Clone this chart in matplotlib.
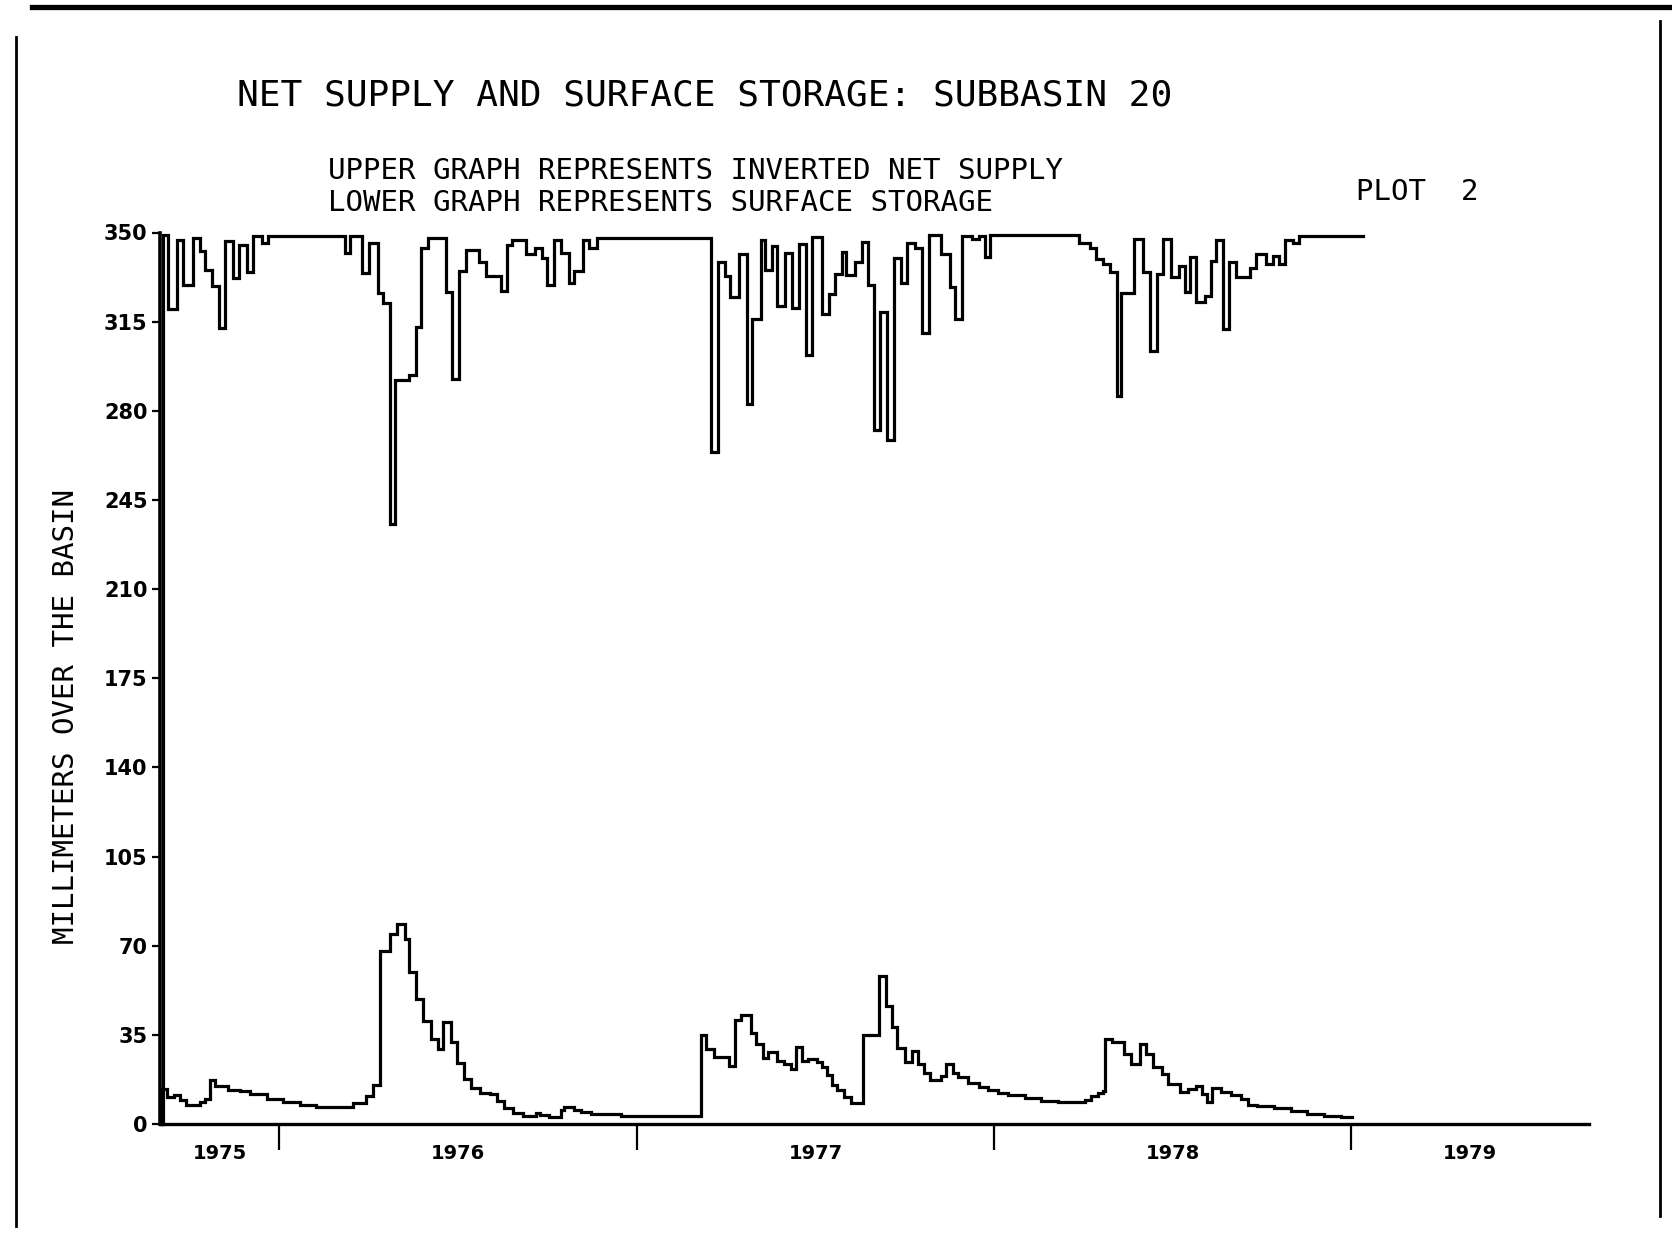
import matplotlib
matplotlib.use("Agg")
import matplotlib.pyplot as plt
from matplotlib.lines import Line2D

W, H = 1672, 1241

# ---- data (time axis: days since 1 Sep 1975; axis spans four years) ----
upper_day = [1, 3, 8, 17, 24, 34, 41, 46, 53, 60,
             66, 75, 81, 89, 95, 104, 110, 189, 194, 207,
             214, 223, 228, 235, 240, 255, 262, 267, 274, 292,
             299, 306, 313, 326, 333, 349, 355, 360, 374, 383,
             391, 396, 403, 410, 418, 423, 432, 439, 447, 563,
             570, 578, 583, 592, 600, 605, 614, 619, 626, 631,
             639, 646, 653, 660, 667, 677, 684, 690, 697, 701,
             711, 718, 724, 730, 736, 743, 750, 758, 764, 772,
             779, 786, 799, 808, 813, 820, 830, 837, 843, 849,
             940, 951, 957, 964, 971, 978, 983, 996, 1005, 1012,
             1019, 1025, 1034, 1042, 1048, 1053, 1059, 1068, 1075, 1080,
             1087, 1093, 1100, 1114, 1121, 1131, 1138, 1144, 1150, 1158,
             1165]
upper_val = [0, 349, 320, 347, 329.5, 348, 342.6, 335.4, 328.9, 312.5,
             346.6, 332, 345, 334.6, 348.5, 346, 348.5, 342, 348.5, 334,
             346, 326.3, 322.4, 235.5, 292, 294, 312.8, 344, 348, 326.6,
             292.5, 335, 343, 338.5, 333, 327, 345, 347, 341.5, 344,
             340, 329.5, 347, 342, 330, 335, 347, 344, 348, 264,
             338.5, 333, 324.5, 341.7, 282.5, 316, 347, 335.4, 344.6, 321,
             342.1, 320.5, 345.5, 302, 348.2, 318, 326, 333.8, 342.4, 333.2,
             338.5, 346.4, 329.4, 272.3, 318.8, 268.4, 340, 330.2, 345.9, 344,
             310.5, 349, 341.6, 328.5, 316.1, 348.7, 347.5, 348.7, 340.5, 349,
             346, 344, 339.6, 337.6, 334.4, 286, 326.3, 347.4, 334.4, 303.6,
             333.8, 347.6, 332.6, 337, 326.6, 340.5, 322.9, 325, 339, 346.9,
             312, 338.4, 332.5, 336, 341.5, 337.6, 340.8, 337.7, 347, 345.7,
             348.7]
upper_end = 1230

lower_day = [1, 2, 7, 14, 20, 27, 41, 46, 51, 56,
             70, 82, 92, 109, 126, 143, 160, 177, 197, 211,
             218, 225, 235, 242, 250, 255, 262, 269, 277, 284,
             289, 298, 304, 311, 318, 327, 337, 345, 352, 361,
             371, 384, 389, 398, 410, 413, 423, 430, 441, 471,
             553, 558, 566, 582, 588, 594, 604, 609, 616, 622,
             631, 638, 645, 650, 656, 662, 672, 677, 682, 687,
             692, 699, 706, 719, 735, 742, 748, 753, 762, 769,
             775, 781, 787, 798, 804, 811, 816, 826, 837, 847,
             857, 867, 884, 901, 918, 935, 946, 952, 959, 964,
             966, 973, 986, 993, 1002, 1008, 1015, 1024, 1031, 1043,
             1051, 1059, 1065, 1070, 1076, 1085, 1095, 1105, 1112, 1122,
             1139, 1156, 1173, 1190, 1207]
lower_val = [0, 13.9, 10.6, 11.2, 9.4, 7.5, 8.8, 10, 17.4, 14.8,
             13.2, 12.9, 11.6, 9.7, 8.5, 7.6, 6.7, 6.5, 8.2, 11,
             15.5, 68, 74.6, 78.6, 72.7, 59.6, 49, 40.5, 33.4, 29.4,
             40, 32, 24, 17.5, 14.3, 12.3, 11.6, 9, 6.4, 4.5,
             3.2, 4.5, 3.5, 2.6, 5.6, 6.6, 5.6, 4.6, 4, 3.1,
             35, 29.6, 26.2, 22.7, 41, 42.8, 35.9, 31.3, 26.1, 28.1,
             24.8, 23.5, 21.6, 30.2, 24.9, 25.6, 24.3, 22.3, 19.1, 15.2,
             13.2, 10.6, 8.1, 35.1, 58.2, 46.4, 37.9, 30, 24.2, 28.8,
             23.6, 20, 17.4, 18.7, 23.6, 20, 18.5, 16, 14.5, 13.2,
             12.2, 11.4, 10.1, 9.2, 8.5, 8.6, 9.4, 10.8, 12.1, 13.1,
             33.4, 32.1, 27.5, 23.6, 31.5, 27.5, 22.4, 19.8, 15.8, 12.6,
             13.9, 14.9, 11.9, 8.7, 14, 12.5, 11.2, 9.9, 7.6, 7.1,
             6.2, 5, 4.1, 3.1, 2.6]
lower_end = 1219

year_bounds = [122, 488, 853, 1218]
year_label_pos = [61, 305, 670.5, 1035.5, 1339.5]
year_labels = ["1975", "1976", "1977", "1978", "1979"]
y_ticks = [0, 35, 70, 105, 140, 175, 210, 245, 280, 315, 350]

title = "NET SUPPLY AND SURFACE STORAGE: SUBBASIN 20"
sub1 = "UPPER GRAPH REPRESENTS INVERTED NET SUPPLY"
sub2 = "LOWER GRAPH REPRESENTS SURFACE STORAGE"
plot_tag = "PLOT  2"
ylabel = "MILLIMETERS OVER THE BASIN"

# ---- figure ----
fig = plt.figure(figsize=(W / 100, H / 100), dpi=100)
fig.patch.set_facecolor("white")

def fx(x):
    return x / W

def fy(y):
    return 1 - y / H

# page border lines (scan frame)
fig.add_artist(Line2D([fx(32), fx(1672)], [fy(7), fy(7)], lw=3.8, color="black"))
fig.add_artist(Line2D([fx(16), fx(16)], [fy(37), fy(1226)], lw=2.0, color="black"))
fig.add_artist(Line2D([fx(1660), fx(1660)], [fy(21), fy(1216)], lw=2.0, color="black"))

mono = "DejaVu Sans Mono"
fig.text(fx(237), fy(96), title, family=mono, fontsize=26, ha="left", va="center")
fig.text(fx(328), fy(171), sub1, family=mono, fontsize=21, ha="left", va="center")
fig.text(fx(328), fy(203), sub2, family=mono, fontsize=21, ha="left", va="center")
fig.text(fx(1356), fy(192), plot_tag, family=mono, fontsize=21, ha="left", va="center")
fig.text(fx(66), fy(716), ylabel, family=mono, fontsize=21, rotation=90,
         ha="center", va="center")

ax_left, ax_right = 160, 1589
ax_top, ax_bot = 232.5, 1124
ax = fig.add_axes([fx(ax_left), fy(ax_bot), (ax_right - ax_left) / W, (ax_bot - ax_top) / H])
ax.set_facecolor("none")
ax.set_xlim(0, 1461)
ax.set_ylim(0, 350)

for s in ("top", "right"):
    ax.spines[s].set_visible(False)
ax.spines["left"].set_linewidth(2.6)
ax.spines["bottom"].set_linewidth(2.4)

ax.step(upper_day + [upper_end], upper_val + [upper_val[-1]], where="post",
        color="black", lw=2.3, clip_on=False, solid_joinstyle="miter")
ax.step(lower_day + [lower_end], lower_val + [lower_val[-1]], where="post",
        color="black", lw=2.3, clip_on=False, solid_joinstyle="miter")

ax.set_yticks(y_ticks)
ax.set_yticklabels([str(v) for v in y_ticks])
ax.tick_params(axis="y", direction="out", length=6, width=1.6, pad=3,
               labelsize=15)
for lab in ax.get_yticklabels():
    lab.set_fontweight("bold")

ax.set_xticks(year_bounds)
ax.set_xticklabels([])
ax.tick_params(axis="x", direction="out", length=19, width=1.6)

for pos, lab in zip(year_label_pos, year_labels):
    ax.text(pos, -11.5, lab, ha="center", va="center", fontsize=14,
            fontweight="bold", clip_on=False)

fig.savefig("out.png", dpi=100, facecolor="white")
